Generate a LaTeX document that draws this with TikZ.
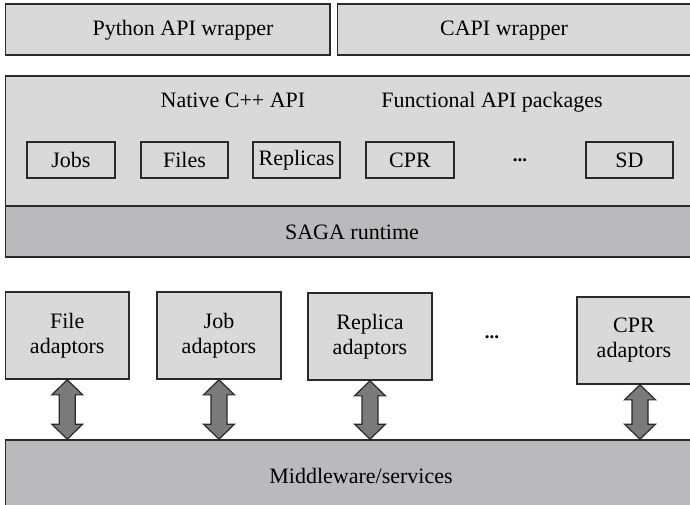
\documentclass[tikz,border=0pt]{standalone}
\usepackage{fontspec}
\setmainfont{Liberation Serif}
\usetikzlibrary{positioning}
\usetikzlibrary{calc}

\definecolor{boxlight}{RGB}{217,217,217}
\definecolor{boxdark}{RGB}{186,186,188}
\definecolor{arrowgray}{RGB}{122,122,122}
\definecolor{edgegray}{RGB}{42,42,42}

\tikzset{
  layer/.style={draw=edgegray, line width=1.7pt, fill=boxlight, inner sep=0pt},
  darklayer/.style={layer, fill=boxdark},
  pkg/.style={layer, minimum width=87.5pt, minimum height=36pt},
  adaptor/.style={layer, minimum height=87pt, align=center},
  txt/.style={inner sep=0pt, anchor=base},
  moredots/.style={inner sep=0pt, font=\fontsize{19}{19}\selectfont\bfseries},
  dblarrow/.style={draw=edgegray, line width=1.2pt, fill=arrowgray, line join=miter}
}

% two-headed block arrow from #1 (top) down to #2 (bottom)
\newcommand{\bothways}[2]{%
  \draw[dblarrow] (#1) -- ++(15.5,15) -- ++(-7.5,0)
    -- ($(#1 |- #2)+(8,-15)$) -- ++(7.5,0) -- (#1 |- #2)
    -- ++(-15.5,-15) -- ++(7.5,0)
    -- ($(#1)+(-8,15)$) -- ++(-7.5,0) -- cycle;}

\begin{document}
\begin{tikzpicture}[x=1pt,y=-1pt,font=\fontsize{22}{25}\selectfont]
  \useasboundingbox (0,0) rectangle (690,505);
  \clip (0,0) rectangle (690,505);

  % wrappers
  \node[layer, minimum width=324.5pt, minimum height=51pt] (python) at (167.75,29.5) {};
  \node[layer, minimum width=362.5pt, minimum height=51pt] (capi) at (518.75,29.5) {};
  \node[txt] (pythontext) at (183,36) {Python API wrapper};
  \node[txt] (capitext) at (504,36) {CAPI wrapper};

  % native API and runtime
  \node[layer, minimum width=694.5pt, minimum height=130pt] (native) at (352.75,141) {};
  \node[darklayer, minimum width=694.5pt, minimum height=51pt] (saga) at (352.75,231.5) {};
  \node[txt] (nativetext) at (233,108) {Native C++ API};
  \node[txt] (functext) at (492,108) {Functional API packages};
  \node[txt] (sagatext) at (352,239) {SAGA runtime};

  \node[pkg] (jobs) at (71,160) {Jobs};
  \node[pkg] (files) at (184.5,160) {Files};
  \node[pkg] (replicas) at (296.5,160) {Replicas};
  \node[pkg] (cpr) at (410,160) {CPR};
  \node[moredots] (pkgdots) at (520,160) {...};
  \node[pkg] (sd) at (629.5,160) {SD};

  % adaptors
  \node[adaptor, minimum width=123.5pt] (fileadp) at (67.25,335.5) {File\\adaptors};
  \node[adaptor, minimum width=124pt] (jobadp) at (219,335.5) {Job\\adaptors};
  \node[adaptor, minimum width=124pt] (replicaadp) at (370,336.5) {Replica\\adaptors};
  \node[moredots] (adpdots) at (492,337) {...};
  \node[adaptor, minimum width=114pt] (cpradp) at (634,340.5) {CPR\\adaptors};
  \coordinate (cprfoot) at ($(cpradp.south)+(6,0)$);

  \node[darklayer, minimum width=694.5pt, minimum height=70pt] (middleware) at (352.75,475) {};
  \node[txt] (middletext) at (361,483) {Middleware/services};

  \bothways{fileadp.south}{middleware.north}
  \bothways{jobadp.south}{middleware.north}
  \bothways{replicaadp.south}{middleware.north}
  \bothways{cprfoot}{middleware.north}
\end{tikzpicture}
\end{document}
